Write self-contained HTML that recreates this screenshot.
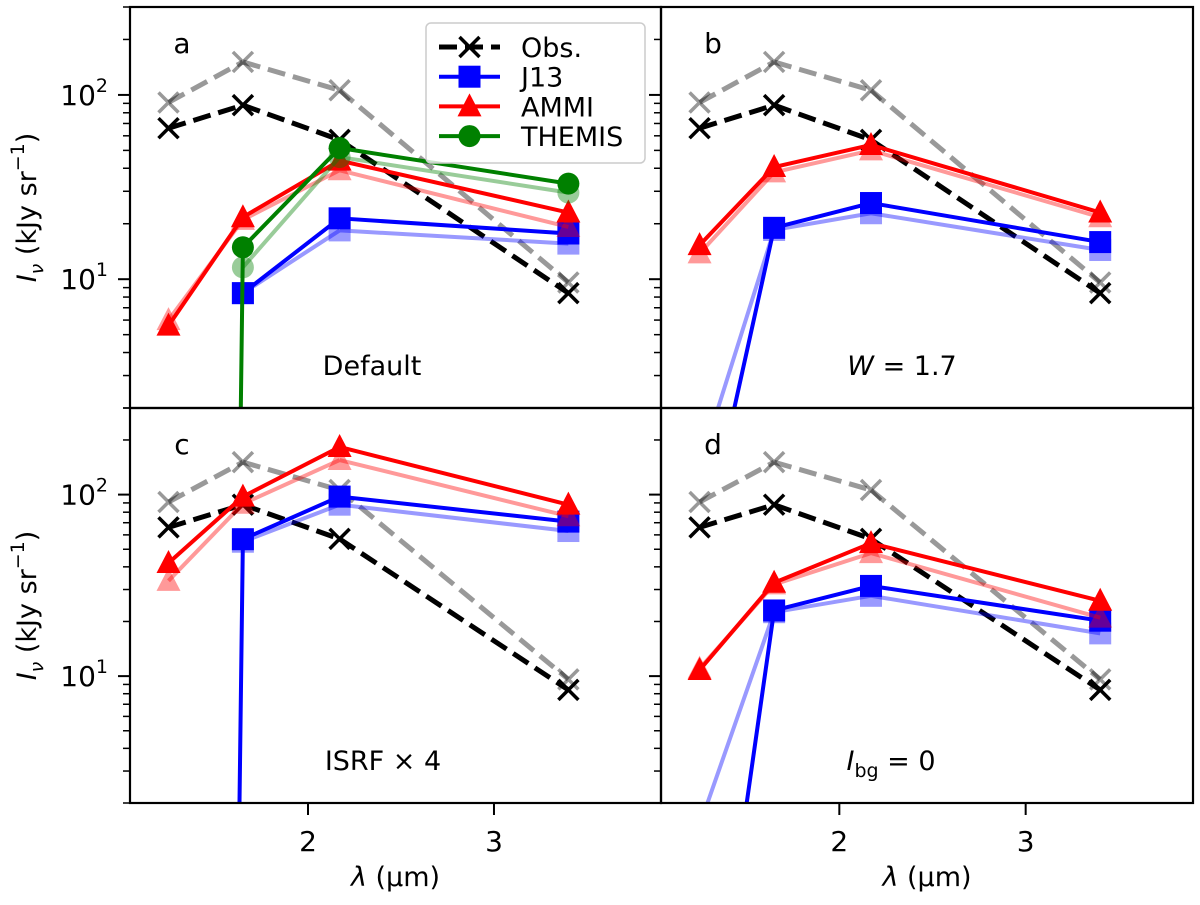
<!DOCTYPE html>
<html><head><meta charset="utf-8"><style>
html,body{margin:0;padding:0;background:#fff;width:1200px;height:905px;overflow:hidden;}
svg{display:block;font-family:"DejaVu Sans","Liberation Sans",sans-serif;}
</style></head><body>
<svg id="fig" width="1200" height="905" viewBox="0 0 1200 905" xmlns="http://www.w3.org/2000/svg"></svg>
<script>
// ---- data ----
const wavelengths = [1.25, 1.65, 2.17, 3.4];
const obs = [66, 88, 57, 8.4];
const obsFaint = [91, 151, 106, 9.6];
const TINY = 1e-30;
// panel a: Default
const a_j13 = [NaN, 8.4, 21.4, 17.7];
const a_j13Faint = [NaN, 8.4, 18.4, 15.6];
const a_ammi = [5.6, 21.7, 44, 23];
const a_ammiFaint = [6.0, 21, 39, 19.2];
const a_themis = [TINY, 14.9, 51.5, 33];
const a_themisFaint = [NaN, 11.6, 46, 29.5];
// panel b: W = 1.7
const b_j13 = [0.28, 19, 25.9, 15.9];
const b_j13Faint = [0.96, 18.5, 22.8, 14.4];
const b_ammi = [15.3, 40.6, 53.5, 23];
const b_ammiFaint = [13.8, 38, 50, 21.7];
// panel c: ISRF x 4
const c_j13 = [TINY, 56.8, 97.5, 71];
const c_j13Faint = [NaN, 55, 88, 63];
const c_ammi = [42, 97.5, 183, 88];
const c_ammiFaint = [33.5, 89, 155, 76];
// panel d: Ibg = 0
const d_j13 = [0.03, 23, 31.4, 20.2];
const d_j13Faint = [1.5, 22.5, 27.7, 17.2];
const d_ammi = [10.8, 32.7, 54, 26];
const d_ammiFaint = [11, 32, 47.6, 21];
const xTicks = [2, 3];
const yMajor = [10, 100];
const yMajorLabels = ["1", "2"];
const xDomain = [1.043, 3.898];
const yDomain = [2, 300];

const NS = "http://www.w3.org/2000/svg";
const svg = document.getElementById('fig');
function mk(tag, attrs, parent){
  const e = document.createElementNS(NS, tag);
  for (const k in attrs) e.setAttribute(k, attrs[k]);
  (parent||svg).appendChild(e);
  return e;
}
const panels = [
  {id:'a', x0:130, x1:661, y0:7, y1:408, label:'Default', sets:[[a_j13Faint,a_j13],[a_ammiFaint,a_ammi],[a_themisFaint,a_themis]], left:true, bottom:false},
  {id:'b', x0:661, x1:1193, y0:7, y1:408, label:'W', sets:[[b_j13Faint,b_j13],[b_ammiFaint,b_ammi]], left:false, bottom:false},
  {id:'c', x0:130, x1:661, y0:408, y1:803, label:'ISRF', sets:[[c_j13Faint,c_j13],[c_ammiFaint,c_ammi]], left:true, bottom:true},
  {id:'d', x0:661, x1:1193, y0:408, y1:803, label:'Ibg', sets:[[d_j13Faint,d_j13],[d_ammiFaint,d_ammi]], left:false, bottom:true},
];
const styles = [
  {color:'#0000ff', marker:'square', name:'j13'},
  {color:'#ff0000', marker:'triangle', name:'ammi'},
  {color:'#008000', marker:'circle', name:'themis'},
];
function drawMarker(g, type, cx, cy, color, opacity){
  let m;
  if (type==='square') m = mk('rect',{x:cx-11,y:cy-11,width:22,height:22,fill:color,'fill-opacity':opacity},g);
  else if (type==='triangle') m = mk('polygon',{points:`${cx},${cy-13} ${cx+12},${cy+10} ${cx-12},${cy+10}`,fill:color,'fill-opacity':opacity},g);
  else if (type==='circle') m = mk('circle',{cx:cx,cy:cy,r:11,fill:color,'fill-opacity':opacity},g);
  else if (type==='x'){
    m = mk('path',{d:`M${cx-10},${cy-10}L${cx+10},${cy+10}M${cx-10},${cy+10}L${cx+10},${cy-10}`,stroke:color,'stroke-width':3.5,'stroke-opacity':opacity,fill:'none'},g);
  }
  
  
}
panels.forEach(p=>{
  const X = v => p.x0 + (v - xDomain[0])/(xDomain[1]-xDomain[0])*(p.x1-p.x0);
  const Y = v => p.y1 - (Math.log10(v)-Math.log10(yDomain[0]))/(Math.log10(yDomain[1])-Math.log10(yDomain[0]))*(p.y1-p.y0);
  const g = mk('g',{});
  
  
  const clip = mk('clipPath',{id:'clip-'+p.id},g);
  mk('rect',{x:p.x0,y:p.y0,width:p.x1-p.x0,height:p.y1-p.y0},clip);
  const plot = mk('g',{'clip-path':`url(#clip-${p.id})`},g);
  function series(vals, color, marker, opacity, dashed, nm){
    const sg = mk('g',{},plot);
    
    
    // build points, truncating segments at the bottom boundary
    const pts = vals.map((v,i)=> isNaN(v) ? null : [X(wavelengths[i]), Y(v)]);
    let d='';
    const lim = p.y1 + 4;
    for (let i=0;i<pts.length-1;i++){
      let a=pts[i], b=pts[i+1];
      if (!a||!b) continue;
      if (a[1]>lim && b[1]>lim) continue;
      if (a[1]>lim){ const t=(lim-b[1])/(a[1]-b[1]); a=[b[0]+(a[0]-b[0])*t, lim]; }
      if (b[1]>lim){ const t=(lim-a[1])/(b[1]-a[1]); b=[a[0]+(b[0]-a[0])*t, lim]; }
      d += 'M'+a[0].toFixed(2)+','+a[1].toFixed(2)+'L'+b[0].toFixed(2)+','+b[1].toFixed(2);
    }
    const path = mk('path',{d:d,fill:'none',stroke:color,'stroke-width':dashed?5:4,'stroke-opacity':opacity,'stroke-linejoin':'round'},sg);
    if (dashed) path.setAttribute('stroke-dasharray','18,8');
    
    
    vals.forEach((v,i)=>{ if(!isNaN(v) && v>=yDomain[0]) drawMarker(sg, marker, X(wavelengths[i]), Y(v), color, opacity); });
  }
  series(obsFaint,'#000',"x",0.4,true,'obs-faint-series');
  series(obs,'#000',"x",1,true,'obs-series');
  p.sets.forEach((pair,k)=>{
    const s = styles[k];
    series(pair[0], s.color, s.marker, 0.4, false, s.name+'-faint-series');
    series(pair[1], s.color, s.marker, 1, false, s.name+'-series');
  });
  const fr = mk('rect',{x:p.x0,y:p.y0,width:p.x1-p.x0,height:p.y1-p.y0,fill:'none',stroke:'#000','stroke-width':2.2},g);
  
  
  for (let dec=0; dec<3; dec++){
    for (let m=1; m<10; m++){
      const v = m*Math.pow(10,dec);
      if (v<yDomain[0]||v>yDomain[1]) continue;
      const y = Y(v), len = m===1?12:7;
      mk('line',{x1:p.x0-len,x2:p.x0,y1:y,y2:y,stroke:'#000','stroke-width':m===1?2:1.5},g);
    }
  }
  if (p.left){
    yMajor.forEach((v,i)=>{
      const t = mk('text',{x:p.x0-22,y:Y(v)+10,'font-size':28,'text-anchor':'end',fill:'#000'},g);
      
      
      t.textContent='10';
      const s = mk('tspan',{'font-size':19,dy:-13},t);
      s.textContent=yMajorLabels[i];
    });
    const yl = mk('text',{transform:`translate(36,${(p.y0+p.y1)/2}) rotate(-90)`,'font-size':27,'text-anchor':'middle',fill:'#000'},g);
    
    
    yl.innerHTML = '<tspan font-style="italic">I</tspan><tspan font-size="19" dy="7" font-style="italic">ν</tspan><tspan dy="-7"> (kJy sr</tspan><tspan font-size="19" dy="-12">−1</tspan><tspan dy="12">)</tspan>';
  }
  if (p.bottom){
    xTicks.forEach(v=>{
      mk('line',{x1:X(v),x2:X(v),y1:p.y1,y2:p.y1+12,stroke:'#000','stroke-width':2},g);
      const t = mk('text',{x:X(v),y:p.y1+48,'font-size':28,'text-anchor':'middle',fill:'#000'},g);
      
      
      t.textContent=v;
    });
    const xl = mk('text',{x:(p.x0+p.x1)/2,y:886,'font-size':27,'text-anchor':'middle',fill:'#000'},g);
    
    
    xl.innerHTML='<tspan font-style="italic">λ</tspan> (µm)';
  }
  const lt = mk('text',{x:p.x0+52,y:p.y0+46,'font-size':28,'text-anchor':'middle',fill:'#000'},g);
  
  
  lt.textContent=p.id;
  const cx = {a:372,b:902,c:383,d:891}[p.id];
  const an = mk('text',{x:cx,y:p.y1-33,'font-size':27,'text-anchor':'middle',fill:'#000'},g);
  
  
  if (p.label==='Default') an.textContent='Default';
  else if (p.label==='W') an.innerHTML='<tspan font-style="italic">W</tspan> = 1.7';
  else if (p.label==='ISRF') an.textContent='ISRF × 4';
  else an.innerHTML='<tspan font-style="italic">I</tspan><tspan font-size="19" dy="7">bg</tspan><tspan dy="-7"> = 0</tspan>';
});
const lg = mk('g',{});


mk('rect',{x:426,y:23,width:219,height:140,rx:5,fill:'#fff','fill-opacity':0.8,stroke:'#ccc','stroke-width':1.5},lg);
const legendNames = ['Obs.','J13','AMMI','THEMIS'];
const legendMarkers = ['x','square','triangle','circle'];
const legendColors = ['#000','#0000ff','#ff0000','#008000'];
legendNames.forEach((n,i)=>{
  const y = 47 + i*29.7;
  const e = mk('g',{},lg);
  
  
  const l = mk('line',{x1:439,x2:500,y1:y,y2:y,stroke:legendColors[i],'stroke-width':i===0?5:4},e);
  if (i===0) l.setAttribute('stroke-dasharray','18,8');
  drawMarker(e, legendMarkers[i], 469.5, y, legendColors[i], 1);
  const t = mk('text',{x:521,y:y+10,'font-size':27,fill:'#000'},e);
  t.textContent=n;
});
</script>
</body></html>
